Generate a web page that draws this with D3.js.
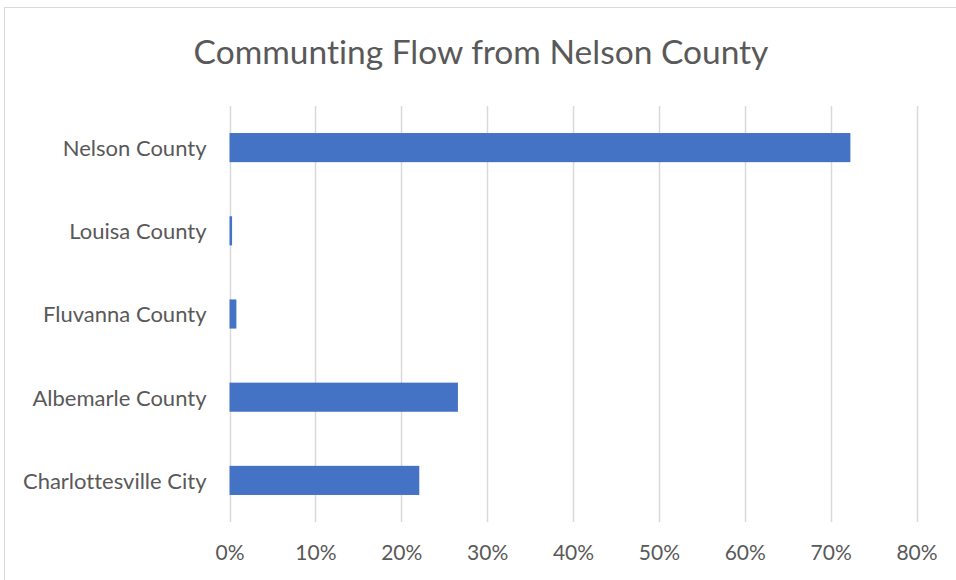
<!DOCTYPE html>
<html>
<head>
<meta charset="utf-8">
<script src="https://cdn.jsdelivr.net/npm/d3@7"></script>
<style>
  html, body { margin: 0; padding: 0; background: #fff; }
  svg { display: block; }
  text { font-family: Lato, "Open Sans", sans-serif; fill: #595959; font-variant-ligatures: none; }
</style>
</head>
<body>
<svg id="chart" width="956" height="580"></svg>
<script>
// Share of Nelson County commuters by destination
const categories = ["Nelson County", "Louisa County", "Fluvanna County", "Albemarle County", "Charlottesville City"];
const shares = [0.723, 0.003, 0.008, 0.266, 0.221];
const xTicks = [0, 0.1, 0.2, 0.3, 0.4, 0.5, 0.6, 0.7, 0.8];
const title = "Communting Flow from Nelson County";

const svg = d3.select("#chart");
const W = 956, H = 580;
const plot = { left: 229.5, right: 916.5, top: 106, bottom: 522 };

// outer chart frame
svg.append("rect")
  .attr("x", 4.5).attr("y", 7.5)
  .attr("width", W + 20).attr("height", H + 20)
  .attr("fill", "#fff").attr("stroke", "#d9d9d9").attr("stroke-width", 1);

const x = d3.scaleLinear().domain([0, 0.8]).range([plot.left, plot.right]);
const y = d3.scaleBand().domain(categories)
  .range([plot.top, plot.bottom])
  .paddingInner(0.65).paddingOuter(0.325);

// vertical gridlines
svg.append("g").selectAll("line").data(xTicks).join("line")
  .attr("x1", d => Math.round(x(d)) + 0.5).attr("x2", d => Math.round(x(d)) + 0.5)
  .attr("y1", plot.top).attr("y2", plot.bottom)
  .attr("stroke", "#d9d9d9").attr("stroke-width", 1.5);

// bars
svg.append("g").selectAll("rect").data(categories).join("rect")
  .attr("x", x(0))
  .attr("y", d => y(d))
  .attr("width", (d, i) => x(shares[i]) - x(0))
  .attr("height", y.bandwidth())
  .attr("fill", "#4472c4");

// x axis labels
const xAxis = d3.axisBottom(x).tickValues(xTicks).tickFormat(d3.format(".0%")).tickSize(0).tickPadding(0);
const gx = svg.append("g").attr("transform", `translate(0,${plot.bottom})`).call(xAxis);
gx.select(".domain").remove();
gx.selectAll("text")
  .attr("y", 38).attr("dy", null)
  .style("font-size", "21px").style("font-family", "Lato, 'Open Sans', sans-serif")
  .attr("fill", "#595959");

// y axis labels
const yAxis = d3.axisLeft(y).tickSize(0).tickPadding(0);
const gy = svg.append("g").attr("transform", `translate(${plot.left - 23},0)`).call(yAxis);
gy.select(".domain").remove();
gy.selectAll("text")
  .attr("x", 0).attr("dy", "0.38em")
  .style("font-size", "22px").style("font-family", "Lato, 'Open Sans', sans-serif")
  .attr("fill", "#595959");

// title
svg.append("text")
  .attr("x", 481).attr("y", 64)
  .attr("text-anchor", "middle")
  .style("font-size", "33.5px")
  .text(title);
</script>
</body>
</html>
